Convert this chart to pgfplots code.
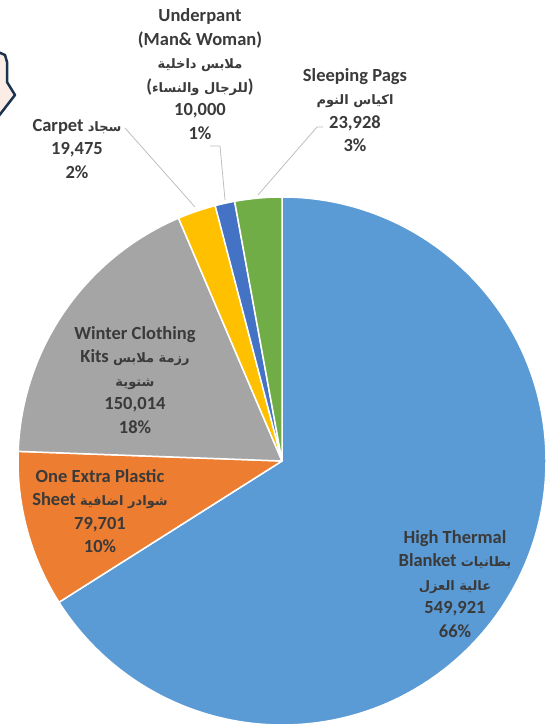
\documentclass[border=0pt]{standalone}
\usepackage{pgfplots}
\pgfplotsset{compat=1.18}
\usepackage{pgfplotstable}
\usepackage{fontspec}
\setmainfont{Carlito}
\newfontfamily\arabicfont[Script=Arabic]{DejaVu Sans}
\TeXXeTstate=1
\definecolor{pie0}{HTML}{5B9BD5}
\definecolor{pie1}{HTML}{ED7D31}
\definecolor{pie2}{HTML}{A5A5A5}
\definecolor{pie3}{HTML}{FFC000}
\definecolor{pie4}{HTML}{4472C4}
\definecolor{pie5}{HTML}{70AD47}
\definecolor{lbl}{HTML}{3A3A3A}
\definecolor{leader}{HTML}{BFBFBF}
\definecolor{navy}{HTML}{1B3350}
\definecolor{peach}{HTML}{FBEDE5}

\pgfplotstableread{
item value
HighThermalBlanket 549921
OneExtraPlasticSheet 79701
WinterClothingKits 150014
Carpet 19475
Underpant 10000
SleepingPags 23928
}\piedata

\newcommand\AR[1]{{\arabicfont\bfseries\fontsize{13}{23.5}\selectfont\beginR #1\endR}}

\begin{document}
\begin{tikzpicture}
\xdef\total{0}
\pgfplotstableforeachcolumnelement{value}\of\piedata\as\v{\xdef\total{\fpeval{\total+\v}}}
\xdef\cum{0}
\pgfplotstableforeachcolumnelement{value}\of\piedata\as\v{%
  \expandafter\xdef\csname sa\pgfplotstablerow\endcsname{\fpeval{90-360*\cum/\total}}%
  \xdef\cum{\fpeval{\cum+\v}}%
  \expandafter\xdef\csname ea\pgfplotstablerow\endcsname{\fpeval{90-360*\cum/\total}}%
}
\begin{axis}[x=1pt,y=1pt,xmin=0,xmax=556,ymin=0,ymax=727,
  hide axis,clip=false,enlargelimits=false,scale only axis]
\pgfplotsinvokeforeach{0,...,5}{
  \fill[pie#1, draw=white, line width=1.5pt, line join=round]
    (axis cs:282,266) -- ++(\csname sa#1\endcsname:264pt)
    arc[start angle=\csname sa#1\endcsname, end angle=\csname ea#1\endcsname, radius=264pt] -- cycle;
}
% leader lines
\draw[leader, line width=0.8pt] (axis cs:125,599) -- (axis cs:195,520);
\draw[leader, line width=0.8pt] (axis cs:210,581) -- (axis cs:220,581) -- (axis cs:225,527);
\draw[leader, line width=0.8pt] (axis cs:323,600) -- (axis cs:317,600) -- (axis cs:258,532);
% decoration top-left
\fill[peach] (axis cs:0,675) -- (axis cs:5,672) -- (axis cs:7,665) -- (axis cs:7,645) -- (axis cs:15,632) -- (axis cs:0,612) -- cycle;
\draw[navy, line width=2.5pt, line join=round] (axis cs:-2,675) -- (axis cs:5,672) -- (axis cs:7,665) -- (axis cs:7,645) -- (axis cs:15,632) -- (axis cs:-2,610);
% labels
\tikzset{lab/.style={align=center, text=lbl, font=\bfseries\fontsize{18.5}{23.5}\selectfont, inner sep=0pt}}
\node[lab] at (axis cs:455,143) {High Thermal\\Blanket \AR{بطانيات}\\\AR{عالية العزل}\\549,921\\66\%};
\node[lab] at (axis cs:100,216) {One Extra Plastic\\Sheet \AR{شوادر اضافية}\\79,701\\10\%};
\node[lab] at (axis cs:135,347) {Winter Clothing\\Kits \AR{رزمة ملابس}\\\AR{شتوية}\\150,014\\18\%};
\node[lab] at (axis cs:77,578) {Carpet \AR{سجاد}\\19,475\\2\%};
\node[lab] at (axis cs:200,653) {Underpant\\(Man\& Woman)\\\AR{ملابس داخلية}\\(\AR{للرجال والنساء})\\10,000\\1\%};
\node[lab] at (axis cs:355,617) {Sleeping Pags\\\AR{اكياس النوم}\\23,928\\3\%};
\end{axis}
\pgfresetboundingbox
\path (current axis.south west) rectangle (current axis.north east);
\end{tikzpicture}
\end{document}
